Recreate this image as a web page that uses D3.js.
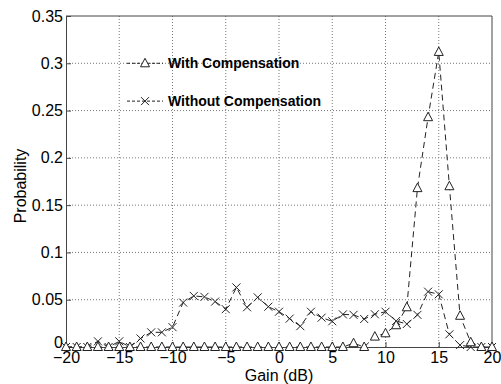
<!DOCTYPE html>
<html>
<head>
<meta charset="utf-8">
<script src="https://cdn.jsdelivr.net/npm/d3@7"></script>
<style>
  body { margin: 0; background: #fff; }
  text { font-family: "Liberation Sans", Arial, sans-serif; }
</style>
</head>
<body>
<div id="chart"></div>
<script>
// gain values (dB) shared by both series
var gains = d3.range(-20, 21, 1);

// probability, with compensation (triangles)
var withComp = [0,0,0,0,0,0,0,0,0,0, 0,0,0,0,0,0,0,0,0,0, 0,0,0,0,0,0,0,0.004,0,0.011, 0.0145,0.023,0.042,0.168,0.243,0.312,0.17,0.033,0.005,0,0];

// probability, without compensation (crosses)
var withoutComp = [0,0,0,0.006,0,0.006,0,0.009,0.0155,0.0155, 0.021,0.047,0.054,0.053,0.048,0.040,0.063,0.042,0.0525,0.0426, 0.0373,0.030,0.022,0.0373,0.031,0.0272,0.0345,0.034,0.0296,0.0346, 0.0373,0.0275,0.0243,0.034,0.0585,0.0557,0.0134,0.002,0,0,0];

var xTicks = [-20, -15, -10, -5, 0, 5, 10, 15, 20];
var yTicks = [0, 0.05, 0.1, 0.15, 0.2, 0.25, 0.3, 0.35];
var legendLabels = ["With Compensation", "Without Compensation"];

var W = 501, H = 384;
var m = {left: 66, right: 9, top: 16, bottom: 37};

var svg = d3.select("#chart").append("svg")
    .attr("width", W)
    .attr("height", H);

var x = d3.scaleLinear().domain([-20, 20]).range([m.left, W - m.right]);
var y = d3.scaleLinear().domain([0, 0.35]).range([H - m.bottom, m.top]);

// grid lines (dotted)
svg.append("g").selectAll("line.vg")
    .data(xTicks.slice(1, -1))
    .enter().append("line")
    .attr("x1", function(d) { return x(d); })
    .attr("x2", function(d) { return x(d); })
    .attr("y1", y(0)).attr("y2", y(0.35))
    .attr("stroke", "#777").attr("stroke-width", 1)
    .attr("stroke-dasharray", "1,2");

svg.append("g").selectAll("line.hg")
    .data(yTicks.slice(1, -1))
    .enter().append("line")
    .attr("x1", x(-20)).attr("x2", x(20))
    .attr("y1", function(d) { return y(d); })
    .attr("y2", function(d) { return y(d); })
    .attr("stroke", "#777").attr("stroke-width", 1)
    .attr("stroke-dasharray", "1,2");

// axes, ticks pointing inward like matlab
var xAxis = svg.append("g")
    .attr("transform", "translate(0," + y(0) + ")")
    .call(d3.axisBottom(x).tickValues(xTicks).tickSizeInner(-5).tickSizeOuter(0).tickPadding(5));
var yAxis = svg.append("g")
    .attr("transform", "translate(" + x(-20) + ",0)")
    .call(d3.axisLeft(y).tickValues(yTicks).tickSizeInner(-5).tickSizeOuter(0).tickPadding(3)
      .tickFormat(function(d) { return d === 0 ? "0" : d3.format("")(+d.toFixed(2)); }));

[xAxis, yAxis].forEach(function(a) {
  a.selectAll("path").attr("stroke", "#444");
  a.selectAll("line").attr("stroke", "#444");
  a.selectAll("text").attr("fill", "#000").style("font-size", "16px")
    .style("font-family", "'Liberation Sans', Arial, sans-serif");
});
// the y "0" sits a bit higher so it does not run into the x "-20"
yAxis.selectAll(".tick text").filter(function(d) { return d === 0; }).attr("dy", "0.05em");

// box top and right
svg.append("line").attr("x1", x(-20)).attr("x2", x(20)).attr("y1", y(0.35)).attr("y2", y(0.35))
    .attr("stroke", "#444");
svg.append("line").attr("x1", x(20)).attr("x2", x(20)).attr("y1", y(0)).attr("y2", y(0.35))
    .attr("stroke", "#444");

// axis titles
svg.append("text")
    .attr("x", 279).attr("y", 381)
    .attr("text-anchor", "middle").style("font-size", "16px")
    .text("Gain (dB)");
svg.append("text")
    .attr("transform", "translate(26,186) rotate(-90)")
    .attr("text-anchor", "middle").style("font-size", "16px")
    .text("Probability");

var line = d3.line()
    .x(function(d) { return x(d[0]); })
    .y(function(d) { return y(d[1]); });

var triPath = "M0,-5L4.5,3.5L-4.5,3.5Z";
var crossPath = "M-4,-4L4,4M-4,4L4,-4";

function drawSeries(vals, marker, fill) {
  var pts = gains.map(function(g, i) { return [g, vals[i]]; });
  svg.append("path")
      .datum(pts)
      .attr("d", line)
      .attr("fill", "none")
      .attr("stroke", "#222")
      .attr("stroke-width", 1)
      .attr("stroke-dasharray", "6,4");
  svg.append("g").selectAll("path")
      .data(pts)
      .enter().append("path")
      .attr("transform", function(d) { return "translate(" + x(d[0]) + "," + y(d[1]) + ")"; })
      .attr("d", marker)
      .attr("fill", fill)
      .attr("stroke", "#222")
      .attr("stroke-width", 1);
}

drawSeries(withoutComp, crossPath, "none");
drawSeries(withComp, triPath, "#fff");

// legend
var legendY = [y(0.3), y(0.26)];
var legendMarks = [triPath, crossPath];
legendLabels.forEach(function(lab, i) {
  var g = svg.append("g");
  g.append("line")
      .attr("x1", 127).attr("x2", 163)
      .attr("y1", legendY[i]).attr("y2", legendY[i])
      .attr("stroke", "#222").attr("stroke-dasharray", "3,2");
  g.append("path")
      .attr("transform", "translate(145," + legendY[i] + ")")
      .attr("d", legendMarks[i])
      .attr("fill", "#fff")
      .attr("stroke", "#222");
  g.append("text")
      .attr("x", 168).attr("y", legendY[i] + 5)
      .style("font-size", "14px")
      .style("font-weight", "bold")
      .text(lab);
});
</script>
</body>
</html>
